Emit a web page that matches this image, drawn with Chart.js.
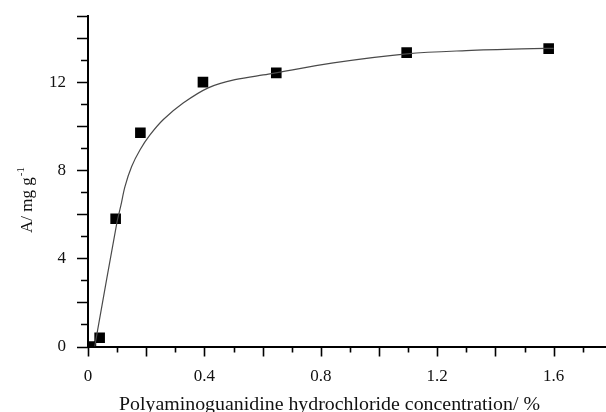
<!DOCTYPE html>
<html>
<head>
<meta charset="utf-8">
<script src="https://cdn.jsdelivr.net/npm/chart.js@4"></script>
<style>
  html, body { margin: 0; padding: 0; background: #fff; }
  #wrap { width: 606px; height: 412px; }
</style>
</head>
<body>
<div id="wrap"><canvas id="chart" width="606" height="412"></canvas></div>
<script>
// measured points
const concentration = [0.01, 0.04, 0.095, 0.18, 0.395, 0.647, 1.095, 1.583];
const adsorption = [0, 0.4, 5.8, 9.7, 12.0, 12.42, 13.34, 13.52];

// fitted curve
const fitX = [0.023, 0.03, 0.099, 0.113, 0.127, 0.15, 0.179, 0.213, 0.259, 0.327, 0.413, 0.505, 0.62, 0.843, 1.095, 1.3, 1.53, 1.6];
const fitY = [0, 0.52, 5.6, 6.4, 7.26, 8.17, 8.93, 9.6, 10.3, 11.05, 11.74, 12.11, 12.36, 12.87, 13.28, 13.43, 13.52, 13.53];

const xTickLabels = [0, 0.4, 0.8, 1.2, 1.6];
const yTickLabels = [0, 4, 8, 12];

const FONT = 'Liberation Serif, Times New Roman, serif';

const axisDecor = {
  id: 'axisDecor',
  afterDraw(chart) {
    const ctx = chart.ctx;
    const xs = chart.scales.x;
    const ys = chart.scales.y;
    const area = chart.chartArea;
    ctx.save();
    ctx.strokeStyle = '#000';
    ctx.lineWidth = 1.6;
    ctx.beginPath();
    for (let i = 0; i <= 17; i++) {
      const px = Math.round(xs.getPixelForValue(i / 10)) + 0.5;
      const len = i % 2 === 0 ? 10 : 6;
      ctx.moveTo(px, area.bottom);
      ctx.lineTo(px, area.bottom + len);
    }
    for (let v = 0; v <= 15; v++) {
      const py = Math.round(ys.getPixelForValue(v)) + 0.5;
      const len = (v % 2 === 0 || v === 15) ? 11 : 7;
      ctx.moveTo(area.left, py);
      ctx.lineTo(area.left - len, py);
    }
    ctx.stroke();

    ctx.fillStyle = '#111';
    // x title
    ctx.font = '19px ' + FONT;
    ctx.textBaseline = 'alphabetic';
    ctx.textAlign = 'left';
    const xt = 'Polyaminoguanidine hydrochloride concentration/ %';
    const w = ctx.measureText(xt).width;
    ctx.save();
    ctx.translate(119, 410);
    ctx.scale(421 / w, 1);
    ctx.fillText(xt, 0, 0);
    ctx.restore();

    // y title with superscript
    ctx.save();
    ctx.translate(32, 233);
    ctx.rotate(-Math.PI / 2);
    ctx.font = '17px ' + FONT;
    const base = 'A/ mg g';
    ctx.fillText(base, 0, 0);
    const bw = ctx.measureText(base).width;
    ctx.font = '11px ' + FONT;
    ctx.fillText('-1', bw + 1, -8);
    ctx.restore();
    ctx.restore();
  }
};

new Chart(document.getElementById('chart'), {
  type: 'scatter',
  data: {
    datasets: [
      {
        label: 'fit',
        data: fitX.map((x, i) => ({ x, y: fitY[i] })),
        showLine: true,
        borderColor: '#4a4a4a',
        borderWidth: 1.2,
        pointRadius: 0,
        tension: 0.35,
        clip: 0
      },
      {
        label: 'A',
        data: concentration.map((x, i) => ({ x, y: adsorption[i] })),
        pointStyle: 'rect',
        pointRadius: 7.5,
        backgroundColor: '#000',
        borderWidth: 0,
        clip: 0
      }
    ]
  },
  options: {
    responsive: false,
    animation: false,
    layout: { autoPadding: false, padding: { top: 16, right: 0, left: 0, bottom: 0 } },
    plugins: { legend: { display: false }, tooltip: { enabled: false } },
    scales: {
      x: {
        type: 'linear',
        min: 0,
        max: 1.78,
        afterBuildTicks: s => { s.ticks = xTickLabels.map(v => ({ value: v })); },
        afterFit: s => { s.height = 65.5; s.paddingLeft = 0; s.paddingRight = 0; },
        grid: { display: false, drawTicks: false },
        border: { display: true, color: '#000', width: 2 },
        ticks: {
          padding: 20,
          color: '#111',
          font: { family: FONT, size: 17 },
          maxRotation: 0,
          callback: v => String(v)
        }
      },
      y: {
        type: 'linear',
        min: 0,
        max: 15,
        afterBuildTicks: s => { s.ticks = yTickLabels.map(v => ({ value: v })); },
        afterFit: s => { s.width = 88; s.paddingTop = 0; s.paddingBottom = 0; },
        grid: { display: false, drawTicks: false },
        border: { display: true, color: '#000', width: 2 },
        ticks: {
          padding: 22,
          color: '#111',
          font: { family: FONT, size: 17 },
          callback: v => String(v)
        }
      }
    }
  },
  plugins: [axisDecor]
});
</script>
</body>
</html>
